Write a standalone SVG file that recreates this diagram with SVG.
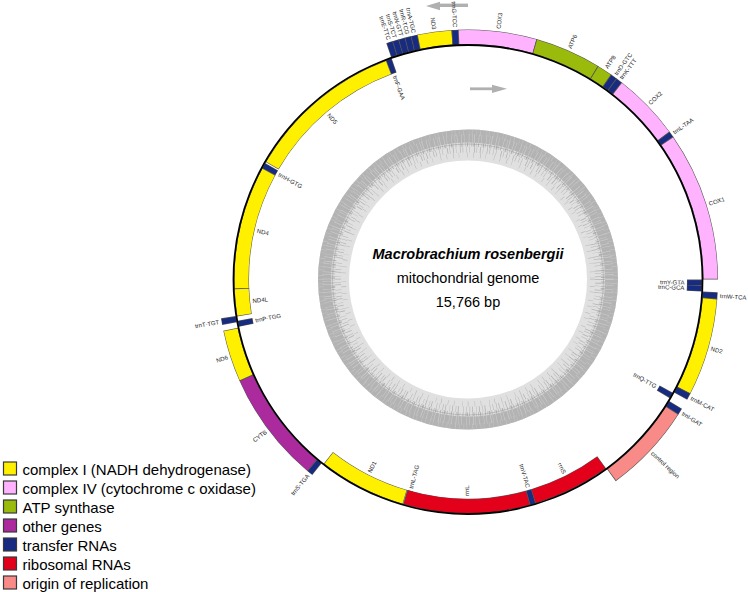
<svg xmlns="http://www.w3.org/2000/svg" width="748" height="592" viewBox="0 0 748 592">
<style>
.u{fill:none;stroke:#555;stroke-width:15}
.f{fill:none;stroke-width:14}
.c1{stroke:#fff000}.c4{stroke:#ffb3ff}.atp{stroke:#9aba0c}.oth{stroke:#ab2a9e}.tr{stroke:#172b80}.rr{stroke:#e2001a}.ori{stroke:#f88a88}
.lb{font-family:"Liberation Sans",Arial,sans-serif;font-size:6px;fill:#222}
.e{text-anchor:end}
.lg{font-family:"Liberation Sans",Arial,sans-serif;font-size:15px;fill:#000}
.lgb{stroke:#3a3a3a;stroke-width:1.2}
.ctr{font-family:"Liberation Sans",Arial,sans-serif;font-size:14.5px;fill:#000;text-anchor:middle}
.gc{fill:none}
</style>
<rect width="748" height="592" fill="#fff"/>
<g id="gc-content" transform="translate(468 279.5)">
<circle class="gc" r="134.5" stroke="#e0e0e0" stroke-width="31"/>
<circle class="gc" r="143.5" stroke="#b3b3b3" stroke-width="13"/>
<circle class="gc" r="135" stroke="#b3b3b3" stroke-width="4" stroke-dasharray="0.6 1.4 1.2 0.9 0.4 2.1 0.8 1.2 1.6 0.9 0.5 1.6 0.9 2.4 0.4 1.1 1.2 0.9 0.7 1.8"/>
<circle class="gc" r="130" stroke="#b3b3b3" stroke-width="6" stroke-dasharray="0.5 2.8 0.8 2.2 0.4 3.6 0.7 1.9 0.6 3.1 0.5 2.4 0.5 4.5 0.8 1.7"/>
<circle class="gc" r="124.5" stroke="#b8b8b8" stroke-width="5" stroke-dasharray="0.5 6.3 0.6 4.9 0.4 8.1 0.5 5.6"/>
<circle class="gc" r="141" stroke="#d0d0d0" stroke-width="9" stroke-dasharray="0.5 2.9 0.4 1.7 0.6 3.8 0.5 2.2 0.4 4.5"/>
<circle class="gc" r="147" stroke="#c6c6c6" stroke-width="6" stroke-dasharray="0.4 3.3 0.6 5.1 0.4 2.6 0.5 4.2"/>
<circle class="gc" r="135.5" stroke="#9a9a9a" stroke-width="0.5"/>
</g>
<g id="title">
<text class="ctr" x="468" y="259" font-weight="bold" font-style="italic">Macrobrachium rosenbergii</text>
<text class="ctr" x="468" y="283">mitochondrial genome</text>
<text class="ctr" x="468" y="307">15,766 bp</text>
</g>
<g id="connectors" fill="#b0b0b0">
<rect x="439" y="3.6" width="29" height="3.4"/>
<polygon points="426,6 440,1.7 440,10.2"/>
<rect x="470" y="87.4" width="23" height="2.8"/>
<polygon points="507,88.8 492,84.8 492,93"/>
</g>
<g id="genes" transform="translate(468 279.5)">
<g id="trnE-TTC"><circle class="u" r="242.5" pathLength="360" stroke-dasharray="1.61 400" transform="rotate(-109.08)"/><circle class="f tr" r="242.5" pathLength="360" stroke-dasharray="1.29 400" transform="rotate(-108.92)"/><text class="lb e" dy="2.1" transform="rotate(-18.28) translate(0 -252.5) rotate(90)">trnE-TTC</text></g>
<g id="trnS-TCT"><circle class="u" r="242.5" pathLength="360" stroke-dasharray="1.61 400" transform="rotate(-107.63)"/><circle class="f tr" r="242.5" pathLength="360" stroke-dasharray="1.29 400" transform="rotate(-107.47)"/><text class="lb e" dy="2.1" transform="rotate(-16.83) translate(0 -252.5) rotate(90)">trnS-TCT</text></g>
<g id="trnN-GTT"><circle class="u" r="242.5" pathLength="360" stroke-dasharray="1.66 400" transform="rotate(-106.18)"/><circle class="f tr" r="242.5" pathLength="360" stroke-dasharray="1.34 400" transform="rotate(-106.02)"/><text class="lb e" dy="2.1" transform="rotate(-15.35) translate(0 -252.5) rotate(90)">trnN-GTT</text></g>
<g id="trnR-TCG"><circle class="u" r="242.5" pathLength="360" stroke-dasharray="1.61 400" transform="rotate(-104.68)"/><circle class="f tr" r="242.5" pathLength="360" stroke-dasharray="1.29 400" transform="rotate(-104.52)"/><text class="lb e" dy="2.1" transform="rotate(-13.88) translate(0 -252.5) rotate(90)">trnR-TCG</text></g>
<g id="trnA-TGC"><circle class="u" r="242.5" pathLength="360" stroke-dasharray="1.61 400" transform="rotate(-103.23)"/><circle class="f tr" r="242.5" pathLength="360" stroke-dasharray="1.29 400" transform="rotate(-103.07)"/><text class="lb e" dy="2.1" transform="rotate(-12.43) translate(0 -252.5) rotate(90)">trnA-TGC</text></g>
<g id="ND3"><circle class="u" r="242.5" pathLength="360" stroke-dasharray="8.16 400" transform="rotate(-101.78)"/><circle class="f c1" r="242.5" pathLength="360" stroke-dasharray="7.84 400" transform="rotate(-101.62)"/><text class="lb e" dy="2.1" transform="rotate(-7.7) translate(0 -252.5) rotate(90)">ND3</text></g>
<g id="trnG-TCC"><circle class="u" r="242.5" pathLength="360" stroke-dasharray="1.66 400" transform="rotate(-93.78)"/><circle class="f tr" r="242.5" pathLength="360" stroke-dasharray="1.34 400" transform="rotate(-93.62)"/><text class="lb e" dy="2.1" transform="rotate(-2.95) translate(0 -252.5) rotate(90)">trnG-TCC</text></g>
<g id="COX3"><circle class="u" r="242.5" pathLength="360" stroke-dasharray="18.36 400" transform="rotate(-92.28)"/><circle class="f c4" r="242.5" pathLength="360" stroke-dasharray="18.04 400" transform="rotate(-92.12)"/><text class="lb" dy="2.1" transform="rotate(6.9) translate(0 -252.5) rotate(-90)">COX3</text></g>
<g id="ATP6"><circle class="u" r="242.5" pathLength="360" stroke-dasharray="15.56 400" transform="rotate(-74.08)"/><circle class="f atp" r="242.5" pathLength="360" stroke-dasharray="15.24 400" transform="rotate(-73.92)"/><text class="lb" dy="2.1" transform="rotate(23.7) translate(0 -252.5) rotate(-90)">ATP6</text></g>
<g id="ATP8"><circle class="u" r="242.5" pathLength="360" stroke-dasharray="3.76 400" transform="rotate(-58.68)"/><circle class="f atp" r="242.5" pathLength="360" stroke-dasharray="3.44 400" transform="rotate(-58.52)"/><text class="lb" dy="2.1" transform="rotate(33.2) translate(0 -252.5) rotate(-90)">ATP8</text></g>
<g id="trnD-GTC"><circle class="u" r="242.5" pathLength="360" stroke-dasharray="1.66 400" transform="rotate(-55.08)"/><circle class="f tr" r="242.5" pathLength="360" stroke-dasharray="1.34 400" transform="rotate(-54.92)"/><text class="lb" dy="2.1" transform="rotate(35.75) translate(0 -252.5) rotate(-90)">trnD-GTC</text></g>
<g id="trnK-TTT"><circle class="u" r="242.5" pathLength="360" stroke-dasharray="1.66 400" transform="rotate(-53.58)"/><circle class="f tr" r="242.5" pathLength="360" stroke-dasharray="1.34 400" transform="rotate(-53.42)"/><text class="lb" dy="2.1" transform="rotate(37.25) translate(0 -252.5) rotate(-90)">trnK-TTT</text></g>
<g id="COX2"><circle class="u" r="242.5" pathLength="360" stroke-dasharray="15.96 400" transform="rotate(-52.08)"/><circle class="f c4" r="242.5" pathLength="360" stroke-dasharray="15.64 400" transform="rotate(-51.92)"/><text class="lb" dy="2.1" transform="rotate(45.9) translate(0 -252.5) rotate(-90)">COX2</text></g>
<g id="trnL-TAA"><circle class="u" r="242.5" pathLength="360" stroke-dasharray="1.56 400" transform="rotate(-36.28)"/><circle class="f tr" r="242.5" pathLength="360" stroke-dasharray="1.24 400" transform="rotate(-36.12)"/><text class="lb" dy="2.1" transform="rotate(54.5) translate(0 -252.5) rotate(-90)">trnL-TAA</text></g>
<g id="COX1"><circle class="u" r="242.5" pathLength="360" stroke-dasharray="34.86 400" transform="rotate(-34.88)"/><circle class="f c4" r="242.5" pathLength="360" stroke-dasharray="34.54 400" transform="rotate(-34.72)"/><text class="lb" dy="2.1" transform="rotate(72.55) translate(0 -252.5) rotate(-90)">COX1</text></g>
<g id="trnW-TCA"><circle class="u" r="242.5" pathLength="360" stroke-dasharray="1.66 400" transform="rotate(2.92)"/><circle class="f tr" r="242.5" pathLength="360" stroke-dasharray="1.34 400" transform="rotate(3.08)"/><text class="lb" dy="2.1" transform="rotate(93.75) translate(0 -252.5) rotate(-90)">trnW-TCA</text></g>
<g id="ND2"><circle class="u" r="242.5" pathLength="360" stroke-dasharray="22.86 400" transform="rotate(4.42)"/><circle class="f c1" r="242.5" pathLength="360" stroke-dasharray="22.54 400" transform="rotate(4.58)"/><text class="lb" dy="2.1" transform="rotate(105.85) translate(0 -252.5) rotate(-90)">ND2</text></g>
<g id="trnM-CAT"><circle class="u" r="242.5" pathLength="360" stroke-dasharray="1.66 400" transform="rotate(27.12)"/><circle class="f tr" r="242.5" pathLength="360" stroke-dasharray="1.34 400" transform="rotate(27.28)"/><text class="lb" dy="2.1" transform="rotate(117.95) translate(0 -252.5) rotate(-90)">trnM-CAT</text></g>
<g id="trnI-GAT"><circle class="u" r="242.5" pathLength="360" stroke-dasharray="1.66 400" transform="rotate(31.12)"/><circle class="f tr" r="242.5" pathLength="360" stroke-dasharray="1.34 400" transform="rotate(31.28)"/><text class="lb" dy="2.1" transform="rotate(121.95) translate(0 -252.5) rotate(-90)">trnI-GAT</text></g>
<g id="control-region"><circle class="u" r="242.5" pathLength="360" stroke-dasharray="21.16 400" transform="rotate(32.62)"/><circle class="f ori" r="242.5" pathLength="360" stroke-dasharray="20.84 400" transform="rotate(32.78)"/><text class="lb" dy="2.1" transform="rotate(133.2) translate(0 -252.5) rotate(-90)">control region</text></g>
<g id="trnS-TGA"><circle class="u" r="242.5" pathLength="360" stroke-dasharray="1.56 400" transform="rotate(-231.48)"/><circle class="f tr" r="242.5" pathLength="360" stroke-dasharray="1.24 400" transform="rotate(-231.32)"/><text class="lb e" dy="2.1" transform="rotate(-140.7) translate(0 -252.5) rotate(90)">trnS-TGA</text></g>
<g id="CYTB"><circle class="u" r="242.5" pathLength="360" stroke-dasharray="26.26 400" transform="rotate(-230.08)"/><circle class="f oth" r="242.5" pathLength="360" stroke-dasharray="25.94 400" transform="rotate(-229.92)"/><text class="lb e" dy="2.1" transform="rotate(-126.95) translate(0 -252.5) rotate(90)">CYTB</text></g>
<g id="ND6"><circle class="u" r="242.5" pathLength="360" stroke-dasharray="12.16 400" transform="rotate(-203.98)"/><circle class="f c1" r="242.5" pathLength="360" stroke-dasharray="11.84 400" transform="rotate(-203.82)"/><text class="lb e" dy="2.1" transform="rotate(-107.9) translate(0 -252.5) rotate(90)">ND6</text></g>
<g id="trnT-TGT"><circle class="u" r="242.5" pathLength="360" stroke-dasharray="1.56 400" transform="rotate(-190.48)"/><circle class="f tr" r="242.5" pathLength="360" stroke-dasharray="1.24 400" transform="rotate(-190.32)"/><text class="lb e" dy="2.1" transform="rotate(-99.7) translate(0 -252.5) rotate(90)">trnT-TGT</text></g>
<g id="trnF-GAA"><circle class="u" r="226.5" pathLength="360" stroke-dasharray="1.56 400" transform="rotate(-110.58)"/><circle class="f tr" r="226.5" pathLength="360" stroke-dasharray="1.24 400" transform="rotate(-110.42)"/><text class="lb" dy="2.1" transform="rotate(-19.8) translate(0 -216.5) rotate(90)">trnF-GAA</text></g>
<g id="ND5"><circle class="u" r="226.5" pathLength="360" stroke-dasharray="39.46 400" transform="rotate(-149.88)"/><circle class="f c1" r="226.5" pathLength="360" stroke-dasharray="39.14 400" transform="rotate(-149.72)"/><text class="lb" dy="2.1" transform="rotate(-40.15) translate(0 -216.5) rotate(90)">ND5</text></g>
<g id="trnH-GTG"><circle class="u" r="226.5" pathLength="360" stroke-dasharray="1.56 400" transform="rotate(-151.68)"/><circle class="f tr" r="226.5" pathLength="360" stroke-dasharray="1.24 400" transform="rotate(-151.52)"/><text class="lb" dy="2.1" transform="rotate(-60.9) translate(0 -216.5) rotate(90)">trnH-GTG</text></g>
<g id="ND4"><circle class="u" r="226.5" pathLength="360" stroke-dasharray="30.86 400" transform="rotate(-182.38)"/><circle class="f c1" r="226.5" pathLength="360" stroke-dasharray="30.54 400" transform="rotate(-182.22)"/><text class="lb" dy="2.1" transform="rotate(-76.95) translate(0 -216.5) rotate(90)">ND4</text></g>
<g id="ND4L"><circle class="u" r="226.5" pathLength="360" stroke-dasharray="6.86 400" transform="rotate(-189.08)"/><circle class="f c1" r="226.5" pathLength="360" stroke-dasharray="6.54 400" transform="rotate(-188.92)"/><text class="lb" dy="2.1" transform="rotate(-95.65) translate(0 -216.5) rotate(90)">ND4L</text></g>
<g id="trnP-TGG"><circle class="u" r="226.5" pathLength="360" stroke-dasharray="1.56 400" transform="rotate(-191.68)"/><circle class="f tr" r="226.5" pathLength="360" stroke-dasharray="1.24 400" transform="rotate(-191.52)"/><text class="lb" dy="2.1" transform="rotate(-100.9) translate(0 -216.5) rotate(90)">trnP-TGG</text></g>
<g id="ND1"><circle class="u" r="226.5" pathLength="360" stroke-dasharray="21.96 400" transform="rotate(-253.88)"/><circle class="f c1" r="226.5" pathLength="360" stroke-dasharray="21.64 400" transform="rotate(-253.72)"/><text class="lb" dy="2.1" transform="rotate(-152.9) translate(0 -216.5) rotate(90)">ND1</text></g>
<g id="trnL-TAG"><circle class="u" r="226.5" pathLength="360" stroke-dasharray="1.56 400" transform="rotate(-255.48)"/><circle class="f tr" r="226.5" pathLength="360" stroke-dasharray="1.24 400" transform="rotate(-255.32)"/><text class="lb" dy="2.1" transform="rotate(-164.7) translate(0 -216.5) rotate(90)">trnL-TAG</text></g>
<g id="rrnL"><circle class="u" r="226.5" pathLength="360" stroke-dasharray="31.56 400" transform="rotate(74.52)"/><circle class="f rr" r="226.5" pathLength="360" stroke-dasharray="31.24 400" transform="rotate(74.68)"/><text class="lb" dy="2.1" transform="rotate(-179.7) translate(0 -216.5) rotate(90)">rrnL</text></g>
<g id="trnV-TAC"><circle class="u" r="226.5" pathLength="360" stroke-dasharray="1.56 400" transform="rotate(73.12)"/><circle class="f tr" r="226.5" pathLength="360" stroke-dasharray="1.24 400" transform="rotate(73.28)"/><text class="lb e" dy="2.1" transform="rotate(163.9) translate(0 -216.5) rotate(-90)">trnV-TAC</text></g>
<g id="rrnS"><circle class="u" r="226.5" pathLength="360" stroke-dasharray="19.46 400" transform="rotate(53.82)"/><circle class="f rr" r="226.5" pathLength="360" stroke-dasharray="19.14 400" transform="rotate(53.98)"/><text class="lb e" dy="2.1" transform="rotate(153.55) translate(0 -216.5) rotate(-90)">rrnS</text></g>
<g id="trnQ-TTG"><circle class="u" r="226.5" pathLength="360" stroke-dasharray="1.56 400" transform="rotate(28.92)"/><circle class="f tr" r="226.5" pathLength="360" stroke-dasharray="1.24 400" transform="rotate(29.08)"/><text class="lb e" dy="2.1" transform="rotate(119.7) translate(0 -216.5) rotate(-90)">trnQ-TTG</text></g>
<g id="trnY-GTA"><circle class="u" r="226.5" pathLength="360" stroke-dasharray="1.56 400" transform="rotate(0.02)"/><circle class="f tr" r="226.5" pathLength="360" stroke-dasharray="1.24 400" transform="rotate(0.18)"/><text class="lb e" dy="2.1" transform="rotate(90.8) translate(0 -216.5) rotate(-90)">trnY-GTA</text></g>
<g id="trnC-GCA"><circle class="u" r="226.5" pathLength="360" stroke-dasharray="1.56 400" transform="rotate(1.42)"/><circle class="f tr" r="226.5" pathLength="360" stroke-dasharray="1.24 400" transform="rotate(1.58)"/><text class="lb e" dy="2.1" transform="rotate(92.2) translate(0 -216.5) rotate(-90)">trnC-GCA</text></g>
<circle id="genome-line" r="234.5" fill="none" stroke="#000" stroke-width="1.8"/>
</g>
<g id="legend">
<rect class="lgb" x="3.5" y="462" width="13" height="13" fill="#fff000"/><text class="lg" x="22.5" y="474.5">complex I (NADH dehydrogenase)</text>
<rect class="lgb" x="3.5" y="481" width="13" height="13" fill="#ffb3ff"/><text class="lg" x="22.5" y="493.5">complex IV (cytochrome c oxidase)</text>
<rect class="lgb" x="3.5" y="500" width="13" height="13" fill="#9aba0c"/><text class="lg" x="22.5" y="512.5">ATP synthase</text>
<rect class="lgb" x="3.5" y="519" width="13" height="13" fill="#ab2a9e"/><text class="lg" x="22.5" y="531.5">other genes</text>
<rect class="lgb" x="3.5" y="538" width="13" height="13" fill="#172b80"/><text class="lg" x="22.5" y="550.5">transfer RNAs</text>
<rect class="lgb" x="3.5" y="557" width="13" height="13" fill="#e2001a"/><text class="lg" x="22.5" y="569.5">ribosomal RNAs</text>
<rect class="lgb" x="3.5" y="576" width="13" height="13" fill="#f88a88"/><text class="lg" x="22.5" y="588.5">origin of replication</text>
</g>
</svg>
